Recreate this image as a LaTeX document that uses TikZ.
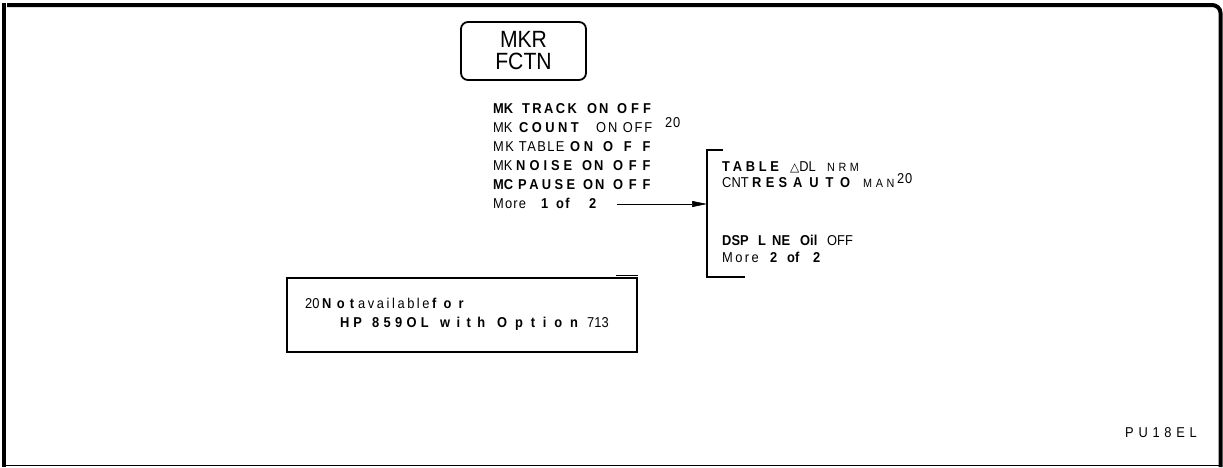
\documentclass[tikz,border=0pt]{standalone}
\usepackage{fontspec}
\setmainfont{Liberation Sans}[FakeStretch=0.9]
\newfontfamily\symfont{DejaVu Sans}
\usetikzlibrary{arrows.meta}
\newcommand\sg[2]{\makebox[#1pt][l]{#2}}
\newcommand\mybf[2][20]{{\bfseries\addfontfeature{LetterSpace=#1}#2}}
\newcommand\mylf[2][10]{{\addfontfeature{LetterSpace=#1}#2}}
\newcommand\mysup[1]{\raisebox{4.5pt}{\mylf[5]{#1}}}
\newcommand\smallcap[2][38]{{\fontsize{12}{13}\selectfont\addfontfeature{LetterSpace=#1}#2}}
\tikzset{
  menu/.style={anchor=base west, inner sep=0pt, font=\fontsize{14.3}{16}\selectfont},
  keybox/.style={draw, line width=1.8pt, rounded corners=7pt, inner sep=0pt, minimum width=125pt, minimum height=58pt, align=center, font=\fontsize{23.5}{22}\selectfont},
  notebox/.style={draw, line width=1.8pt, inner sep=0pt, minimum width=350pt, minimum height=74pt},
  bracket/.style={line width=1.6pt},
  conn/.style={line width=0.6pt, -{Triangle[length=15pt,width=6pt]}}
}
\begin{document}
\begin{tikzpicture}[x=1pt,y=-1pt]
\useasboundingbox (0,0) rectangle (1223,467);
% outer frame
\draw[line cap=butt, line width=4pt] (3.5,3) -- (3.5,467);
\draw[line width=4pt] (7,5) -- (1212,5) to[out=0,in=90] (1220.5,13) -- (1220.5,467);
\draw[line width=1.5pt] (5,465.5) -- (1219,465.5);
% key
\node[keybox] (key) at (523.5,51) {MKR\\FCTN};
% left menu
\node[menu] (m1) at (493,113) {\sg{29}{\mybf[0]{MK}}\sg{65}{\mybf[17]{TRACK}}\sg{30}{\mybf[13]{ON}}\mybf[28]{OFF}};
\node[menu] (m2) at (493,132) {\sg{26}{\mylf[0]{MK}}\sg{77}{\mybf[24]{COUNT}}\sg{69}{\mylf[13]{ON OFF}}\mysup{20}};
\node[menu] (m3) at (493,151) {\sg{77}{\mylf[10]{MK TABLE}}\sg{33}{\mybf[25]{ON}}\mybf[75]{OFF}};
\node[menu] (m4) at (493,170) {\sg{23}{\mylf[0]{MK}}\sg{66}{\mybf[28]{NOISE}}\sg{31}{\mybf[13]{ON}}\mybf[40]{OFF}};
\node[menu] (m5) at (493,189) {\sg{25}{\mybf[0]{MC}}\sg{65}{\mybf[24]{PAUSE}}\sg{30}{\mybf[13]{ON}}\mybf[40]{OFF}};
\node[menu] (m6) at (493,208) {\sg{48}{\mylf[8]{More}}\sg{15}{\mybf{1}}\sg{33}{\mybf[10]{of}}\mybf{2}};
% bracket
\coordinate (btop) at (707,150);
\coordinate (bbot) at (707,277);
\coordinate (bin) at (707,204);
\draw[bracket] (723,150) -- (btop) -- (bbot) -- (745,277);
\draw[conn] ([xshift=20pt]m6.east |- bin) -- (bin);
% right menu
\node[menu] (r1) at (722,171.5) {\sg{68}{\mybf[26]{TABLE}}\sg{37}{{\symfont\fontsize{12}{14}\selectfont △}\mylf[0]{DL}}\smallcap[30]{NRM}};
\node[menu] (r2) at (722,187.5) {\sg{30}{\mylf[0]{CNT}}\sg{41}{\mybf[30]{RES}}\sg{70}{\mybf[48]{AUTO}}\sg{34}{\smallcap[30]{MAN}}\mysup{20}};
\node[menu] (r3) at (722,245) {\sg{36}{\mybf[0]{DSP}}\sg{14}{\mybf[0]{L}}\sg{28}{\mybf[0]{NE}}\sg{27}{\mybf[0]{Oil}}\mylf[0]{OFF}};
\node[menu] (r4) at (722,262) {\sg{48}{\mylf[17]{More}}\sg{17}{\mybf{2}}\sg{26}{\mybf[0]{of}}\mybf{2}};
% footnote
\node[notebox] (note) at (462,315) {};
\draw[line width=1pt] ([xshift=-22pt,yshift=1.5pt]note.north east) -- ([yshift=1.5pt]note.north east);
\node[menu] (n1) at (305,308) {\sg{17}{\mylf[0]{20}}\sg{36}{\mybf[37]{Not}}\sg{74}{\mylf[18]{available}}\mybf[50]{for}};
\node[menu] (n2) at (340,327) {\sg{32}{\mybf[28]{HP}}\sg{68}{\mybf[30]{859OL}}\sg{57}{\mybf[45]{with}}\sg{90}{\mybf[55]{Option}}\mylf[0]{713}};
\node[menu] (pu) at (1125,437) {\mylf[33]{PU18EL}};
\end{tikzpicture}
\end{document}
